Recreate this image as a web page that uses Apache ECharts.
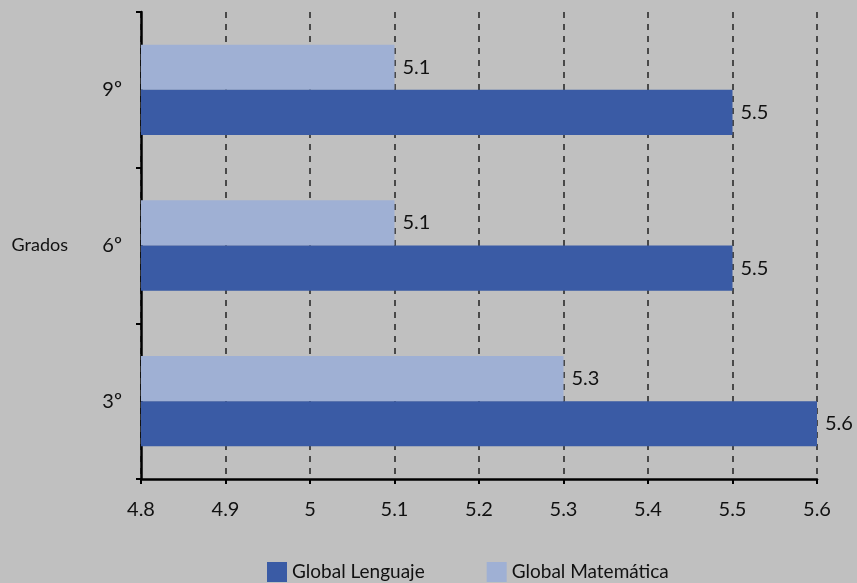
<!DOCTYPE html>
<html>
<head>
<meta charset="utf-8">
<script src="https://cdn.jsdelivr.net/npm/echarts@6/dist/echarts.min.js"></script>
<style>
  html, body { margin: 0; padding: 0; background: #c0c0c0; }
  #chart { width: 857px; height: 583px; }
</style>
</head>
<body>
<div id="chart"></div>
<script>
// Grades on the vertical axis, bottom to top
const grados = ['3º', '6º', '9º'];
// Global scores per grade
const lenguaje = [5.6, 5.5, 5.5];
const matematica = [5.3, 5.1, 5.1];
// Value axis range and step
const xMin = 4.8;
const xMax = 5.6;
const xStep = 0.1;

const font = 'Lato, "Open Sans", sans-serif';
const labelStyle = { show: true, position: 'right', distance: 8, fontSize: 20, color: '#111', fontFamily: font };

const chart = echarts.init(document.getElementById('chart'));
chart.setOption({
  backgroundColor: '#c0c0c0',
  animation: false,
  textStyle: { fontFamily: font, color: '#111' },
  grid: { left: 141, right: 40, top: 12, bottom: 104, containLabel: false, outerBoundsMode: 'none' },
  legend: {
    bottom: -4,
    left: 262,
    itemWidth: 20,
    itemHeight: 20,
    itemGap: 62,
    icon: 'rect',
    textStyle: { fontFamily: font, fontSize: 19, color: '#111' },
    data: ['Global Lenguaje', 'Global Matemática']
  },
  xAxis: {
    type: 'value',
    min: xMin,
    max: xMax,
    interval: xStep,
    axisLine: { show: true, lineStyle: { color: '#000', width: 2.5 } },
    axisTick: { show: true, length: 5, lineStyle: { color: '#000', width: 2 } },
    axisLabel: {
      margin: 21,
      fontSize: 20,
      color: '#111',
      fontFamily: font,
      formatter: v => String(Math.round(v * 10) / 10)
    },
    splitLine: { show: true, lineStyle: { color: '#222', type: [6, 6], width: 1.5 } }
  },
  yAxis: {
    type: 'category',
    data: grados,
    name: 'Grados',
    nameLocation: 'middle',
    nameRotate: 0,
    nameGap: 73,
    nameTextStyle: { fontSize: 18, color: '#111', fontFamily: font },
    axisLine: { show: true, lineStyle: { color: '#000', width: 2.5 } },
    axisTick: { show: true, length: 5, lineStyle: { color: '#000', width: 2 } },
    axisLabel: { margin: 19, fontSize: 20, color: '#111', fontFamily: font }
  },
  series: [
    {
      name: 'Global Matemática',
      type: 'bar',
      data: matematica,
      itemStyle: { color: '#9fb0d4' },
      barGap: '0%',
      barCategoryGap: '42%',
      label: labelStyle
    },
    {
      name: 'Global Lenguaje',
      type: 'bar',
      data: lenguaje,
      itemStyle: { color: '#3a5ba5' },
      barGap: '0%',
      barCategoryGap: '42%',
      label: labelStyle
    }
  ]
});
</script>
</body>
</html>
